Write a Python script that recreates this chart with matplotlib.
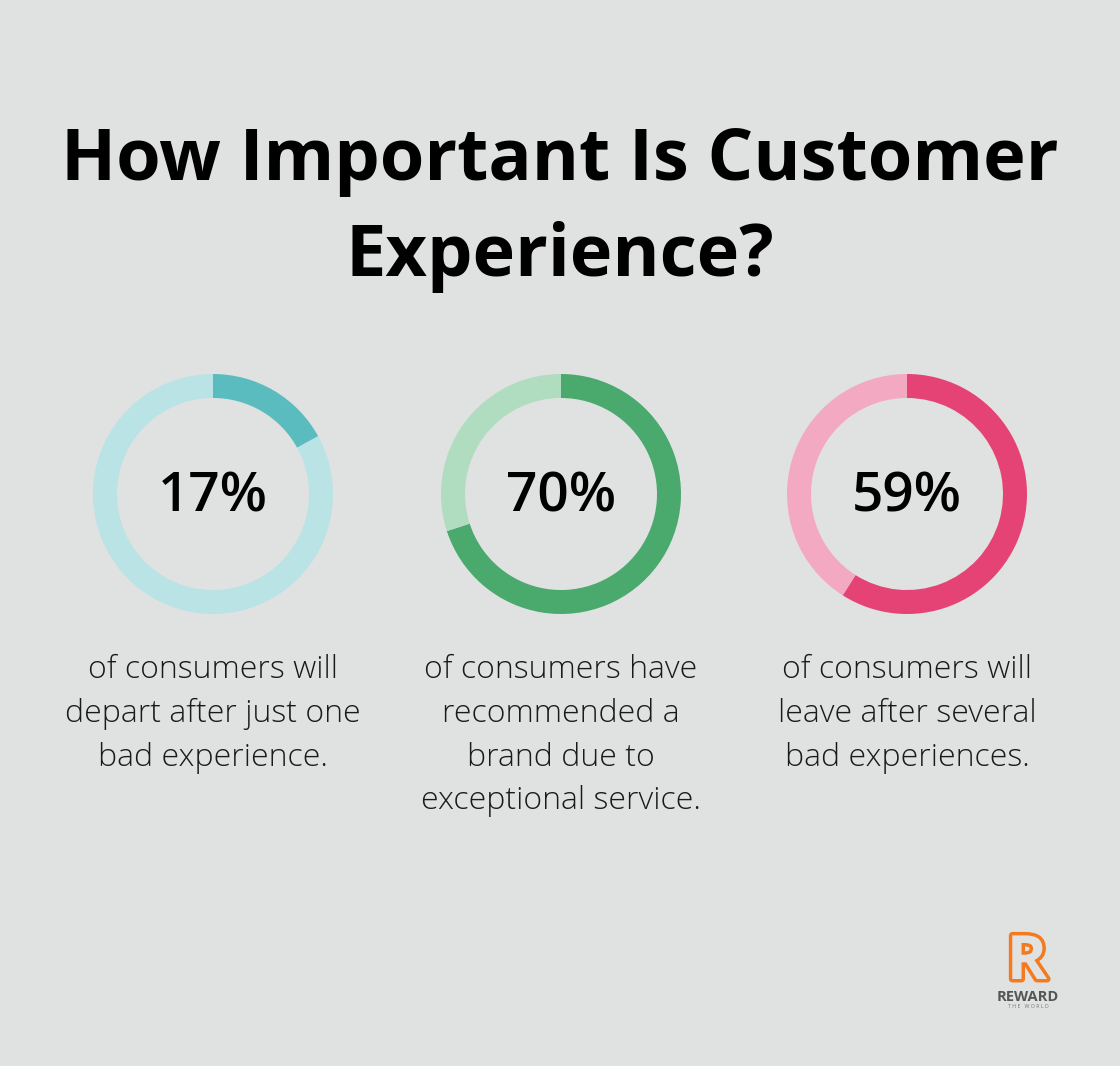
import matplotlib
matplotlib.use('Agg')
import matplotlib.pyplot as plt
import matplotlib.patheffects as pe

# Data
values = [17, 70, 59]
labels = ['17%', '70%', '59%']
captions = [
    'of consumers will\ndepart after just one\nbad experience.',
    'of consumers have\nrecommended a\nbrand due to\nexceptional service.',
    'of consumers will\nleave after several\nbad experiences.',
]
dark_colors = ['#5bbcbf', '#4aa96c', '#e54375']
light_colors = ['#b9e3e5', '#b0dcc0', '#f2a9c1']
centers_x = [213, 561, 907]

W, H = 1120, 1066
bg = '#e0e2e1'
fig = plt.figure(figsize=(W / 100, H / 100), dpi=100)
fig.patch.set_facecolor(bg)

# Title
fig.text(0.5, 1 - 161 / H, 'How Important Is Customer', ha='center', va='center',
         fontsize=51.8, fontweight='bold', family='Open Sans', color='black')
fig.text(0.5, 1 - 257 / H, 'Experience?', ha='center', va='center',
         fontsize=51.8, fontweight='bold', family='Open Sans', color='black')

# Donuts
cy = 494
r = 120
for i in range(3):
    cx = centers_x[i]
    ax = fig.add_axes([(cx - r) / W, (H - cy - r) / H, 2 * r / W, 2 * r / H])
    ax.pie([values[i], 100 - values[i]], colors=[dark_colors[i], light_colors[i]],
           startangle=90, counterclock=False, radius=1,
           wedgeprops=dict(width=0.2, linewidth=0))
    ax.set_aspect('equal')
    ax.set_xlim(-1, 1)
    ax.set_ylim(-1, 1)
    ax.axis('off')
    ax.text(0, -0.03, labels[i], ha='center', va='center', fontsize=39.5,
            fontweight='semibold', family='Open Sans', color='black')
    fig.text(cx / W, 1 - 654 / H, captions[i], ha='center', va='top',
             fontsize=23, fontweight='light', family='Open Sans', color='#1a1a1a',
             linespacing=1.49)

# Logo
fig.text(1027 / W, 1 - 979 / H, 'R', ha='center', va='baseline', fontsize=44,
         fontweight='bold', family='Open Sans', color=bg,
         path_effects=[pe.withStroke(linewidth=5, foreground='#f47a20')])
fig.text(1028 / W, 1 - 1001 / H, 'REWARD', ha='center', va='baseline', fontsize=10.5,
         fontweight='bold', family='Open Sans', color='#555555')
fig.text(1028 / W, 1 - 1008 / H, 'T H E   W O R L D', ha='center', va='baseline',
         fontsize=3.8, family='Open Sans', color='#777777')

fig.savefig('out.png', dpi=100, facecolor=bg)
